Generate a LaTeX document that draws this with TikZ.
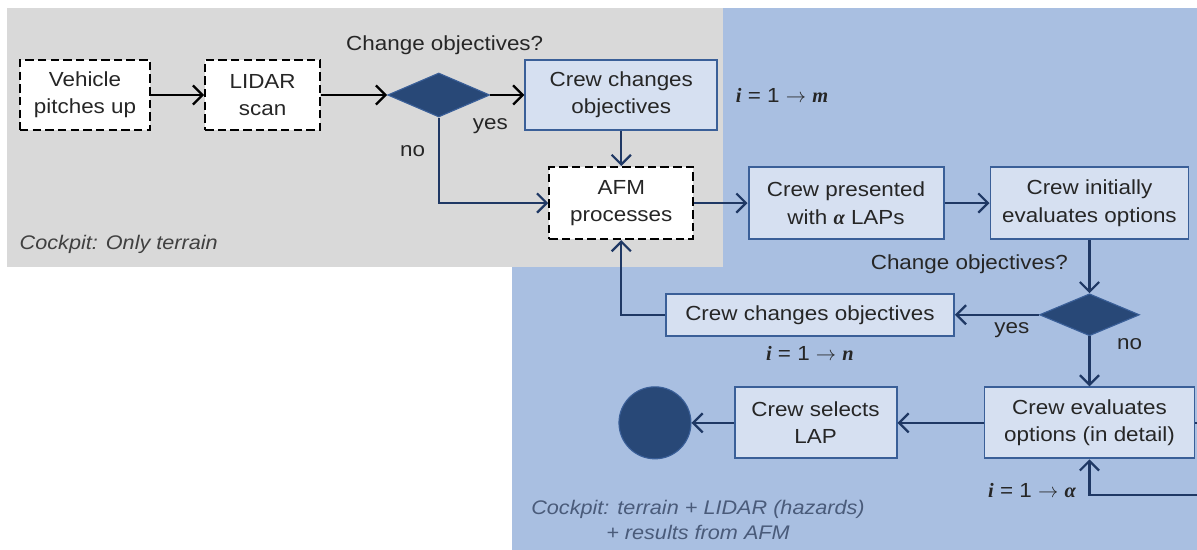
\documentclass[tikz,border=0pt]{standalone}
\usepackage{fontspec}
\setmainfont{Liberation Sans}[FakeStretch=1.1]
\newfontfamily\varfont{Liberation Serif}
\usepackage{xcolor}
\usetikzlibrary{shapes.geometric, positioning, arrows.meta}

\definecolor{cockpitgray}{HTML}{D9D9D9}
\definecolor{cockpitblue}{HTML}{A9BFE1}
\definecolor{boxfill}{HTML}{D6E0F1}
\definecolor{boxline}{HTML}{3A5F98}
\definecolor{navy}{HTML}{1F3864}
\definecolor{decfill}{HTML}{284877}
\definecolor{notegray}{HTML}{404040}
\definecolor{noteblue}{HTML}{4A5B7A}

% loop counters in bold italic serif
\newcommand{\mvar}[1]{{\varfont\bfseries\itshape #1}}

\begin{document}
\begin{tikzpicture}[
        % Define styles for the flow chart components
        font=\fontsize{14.5}{19.5}\selectfont,
        procbox/.style={draw=boxline, line width=1.4pt, fill=boxfill, rectangle, align=center, inner sep=2pt, text=black!85},
        autobox/.style={draw=black, line width=1.5pt, dash pattern=on 6pt off 3pt, fill=white, rectangle, align=center, inner sep=2pt, text=black!85},
        decision/.style={draw=boxline, line width=0.8pt, fill=decfill, diamond, inner sep=0pt},
        endpoint/.style={draw=boxline, line width=0.8pt, fill=decfill, circle, minimum size=1.8cm},
        note/.style={inner sep=1pt, text=black!85},
        flow/.style={line width=1.6pt, draw=navy, -{Straight Barb[length=2.4mm, width=4.8mm]}}
    ]

    \useasboundingbox (0,0) rectangle (29.925,-13.75);
    \clip (0,0) rectangle (29.925,-13.75);

    % --- COCKPIT AREAS ---
    \fill[cockpitblue] (12.8,-0.2) rectangle (30.5,-14);
    \fill[cockpitgray] (0.175,-0.2) rectangle (18.075,-6.675);

    % --- STEPS & DECISIONS ---
    % Automatic steps before the AFM run
    \node[autobox, minimum width=3.25cm, minimum height=1.75cm] (veh) at (2.125,-2.375) {Vehicle\\pitches up};
    \node[autobox, minimum width=2.875cm, minimum height=1.75cm, right=1.325cm of veh] (lidar) {LIDAR\\scan};

    % First decision
    \node[decision, minimum width=2.55cm, minimum height=1.1cm, right=1.65cm of lidar] (dec1) {};
    \node[procbox, minimum width=4.8cm, minimum height=1.75cm, right=0.85cm of dec1] (chg1) {Crew changes\\objectives};

    % AFM and the first crew steps
    \node[autobox, minimum width=3.6cm, minimum height=1.8cm, below=0.875cm of chg1] (afm) {AFM\\processes};
    \node[procbox, minimum width=4.875cm, minimum height=1.8cm, right=1.33cm of afm] (pres) {Crew presented\\with \mvar{α} LAPs};
    \node[procbox, minimum width=4.95cm, minimum height=1.8cm, right=1.125cm of pres] (init) {Crew initially\\evaluates options};

    % Second decision
    \node[decision, minimum width=2.5cm, minimum height=1.05cm, below=1.33cm of init] (dec2) {};
    \node[procbox, minimum width=7.2cm, minimum height=1.05cm, left=2.1cm of dec2] (chg2) {Crew changes objectives};

    % Detailed evaluation and selection
    \node[procbox, minimum width=5.25cm, minimum height=1.775cm, below=1.25cm of dec2] (eval) {Crew evaluates\\options (in detail)};
    \node[procbox, minimum width=4.05cm, minimum height=1.775cm, left=2.15cm of eval] (sel) {Crew selects\\LAP};
    \node[endpoint, left=1.05cm of sel] (stop) {};

    % --- LABELS ---
    \node[note, above=0.4cm of dec1, xshift=0.15cm] (q1) {Change objectives?};
    \node[note, below=0.55cm of dec1.east] (yes1) {yes};
    \node[note, below left=0.65cm and 0.3cm of dec1.south] (no1) {no};
    \node[note, right=0.4cm of chg1] (im) {\mvar{i} = 1 \(\rightarrow\) \mvar{m}};

    \node[note, above left=0.45cm and 0.5cm of dec2.north] (q2) {Change objectives?};
    \node[note, below left=0.15cm and 0.2cm of dec2.west] (yes2) {yes};
    \node[note, below right=0cm and 0.65cm of dec2.south] (no2) {no};
    \node[note, below=0.2cm of chg2] (in) {\mvar{i} = 1 \(\rightarrow\) \mvar{n}};
    \node[note, below left=0.55cm and 0.3cm of eval.south] (ia) {\mvar{i} = 1 \(\rightarrow\) \mvar{α}};

    \node[note, anchor=west, text=notegray, font=\itshape\fontsize{14}{18}\selectfont] (cp1) at (0.45,-6.1) {Cockpit: Only terrain};
    \node[note, align=center, text=noteblue, font=\itshape\fontsize{14}{18}\selectfont] (cp2) at (17.45,-13.0) {Cockpit: terrain + LIDAR (hazards)\\+ results from AFM};

    % --- CONNECTIONS ---
    \coordinate[below right=1.8cm and 1cm of eval.east] (loop);

    \draw[flow, draw=black] (veh) -- (lidar);
    \draw[flow, draw=black] (lidar) -- (dec1);
    \draw[flow, draw=black] (dec1) -- (chg1);
    \draw[flow] (dec1.south) |- (afm.west);
    \draw[flow] (chg1) -- (afm);
    \draw[flow] (afm) -- (pres);
    \draw[flow] (pres) -- (init);
    \draw[flow] (init) -- (dec2);
    \draw[flow] (dec2) -- (chg2);
    \draw[flow] (chg2.west) -| (afm.south);
    \draw[flow] (dec2) -- (eval);
    \draw[flow] (eval) -- (sel);
    \draw[flow] (sel) -- (stop);
    \draw[flow] (eval.east) -| (loop) -| (eval.south);

\end{tikzpicture}
\end{document}
